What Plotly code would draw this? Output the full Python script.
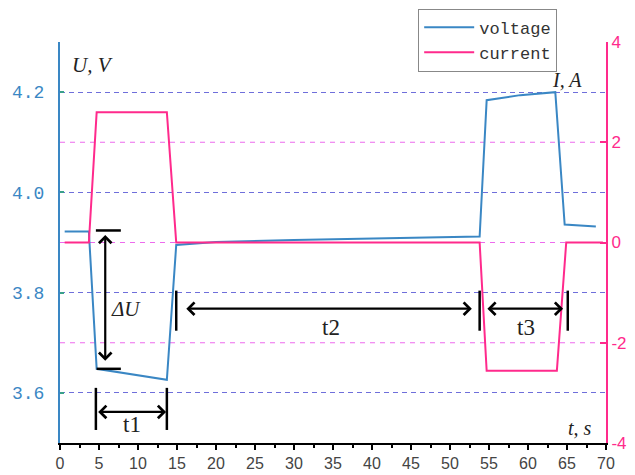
import plotly.graph_objects as go

# ---- data ----
voltage_t = [0.6, 3.7, 4.7, 13.7, 14.9, 20, 30, 40, 53.8, 54.7, 59, 63.5, 64.7, 68.7]
voltage_v = [3.922, 3.922, 3.648, 3.626, 3.895, 3.901, 3.905, 3.908, 3.912, 4.184, 4.194, 4.200, 3.936, 3.932]

current_t = [0.6, 3.7, 4.7, 13.7, 14.9, 53.8, 54.7, 63.7, 64.9, 69.6]
current_i = [0, 0, 2.6, 2.6, 0, 0, -2.56, -2.56, 0, 0]

x_ticks = [0, 5, 10, 15, 20, 25, 30, 35, 40, 45, 50, 55, 60, 65, 70]
x_tick_labels = [str(v) for v in x_ticks]
v_ticks = [3.6, 3.8, 4.0, 4.2]
v_tick_labels = ["3.6", "3.8", "4.0", "4.2"]
i_ticks = [-4, -2, 0, 2, 4]
i_tick_labels = ["-4", "-2", "0", "2", "4"]
i_grid = [-2, 0, 2]

BLUE = "#3a87c4"
PINK = "#ff2a8c"
GRID_V = "rgba(95,95,215,0.9)"
GRID_I = "rgba(235,90,235,0.9)"
SERIF = "Liberation Serif"

fig = go.Figure()
fig.add_trace(go.Scatter(x=current_t, y=current_i, mode="lines", name="current",
                         line=dict(color=PINK, width=2), yaxis="y2"))
fig.add_trace(go.Scatter(x=voltage_t, y=voltage_v, mode="lines", name="voltage",
                         line=dict(color=BLUE, width=2), yaxis="y"))

shapes = []
# current grid lines (right axis), no lines at the frame edges
for g in i_grid:
    shapes.append(dict(type="line", xref="paper", x0=0, x1=1, yref="y2", y0=g, y1=g,
                       line=dict(color=GRID_I, width=1, dash="5px,5px"), layer="below"))

# annotation geometry derived from the data
t_drop0 = voltage_t[2] - 0.1       # start of discharge pulse
t_drop1 = voltage_t[3]             # end of discharge pulse
t_rest0 = voltage_t[4]             # start of rest
t_rest1 = voltage_t[8]             # end of rest
t_chg1 = current_t[8] + 0.2        # end of charge pulse
v_before = voltage_v[1]
v_after = voltage_v[2]

black = dict(color="black", width=2.5)
# Delta U bars
shapes.append(dict(type="line", xref="x", yref="y", x0=t_drop0, x1=t_drop0 + 3.2,
                   y0=v_before + 0.002, y1=v_before + 0.002, line=black))
shapes.append(dict(type="line", xref="x", yref="y", x0=t_drop0 + 0.1, x1=t_drop0 + 3.2,
                   y0=v_after, y1=v_after, line=black))
# t1 bars
for tx in (t_drop0, t_drop1):
    shapes.append(dict(type="line", xref="x", yref="y", x0=tx, x1=tx, y0=3.61, y1=3.526, line=black))
# t2 / t3 bars
for tx in (t_rest0, t_rest1, t_chg1):
    shapes.append(dict(type="line", xref="x", yref="y", x0=tx, x1=tx, y0=3.804, y1=3.724, line=black))

annotations = []

def darrow(x0, y0, x1, y1):
    annotations.append(dict(x=x1, y=y1, ax=x0, ay=y0, xref="x", yref="y", axref="x", ayref="y",
                            text="", showarrow=True, arrowside="end+start",
                            arrowhead=4, startarrowhead=4, arrowsize=1.1, startarrowsize=1.1,
                            arrowwidth=2.2, arrowcolor="black"))

x_du = t_drop0 + 1.2
darrow(x_du, v_before - 0.004, x_du, v_after + 0.016)
darrow(t_drop0 + 0.1, 3.562, t_drop1 - 0.1, 3.562)
darrow(t_rest0 + 1.1, 3.768, t_rest1 - 1.0, 3.768)
darrow(t_rest1 + 0.8, 3.768, t_chg1 - 0.6, 3.768)

def label(txt, x, y, size, xref="x", yref="y"):
    annotations.append(dict(x=x, y=y, xref=xref, yref=yref, text=txt, showarrow=False,
                            font=dict(family=SERIF, size=size, color="#222"),
                            xanchor="center", yanchor="middle"))

label("<i>ΔU</i>", 8.5, 3.768, 21)
label("t1", 9.2, 3.537, 23)
label("t2", 34.8, 3.73, 23)
label("t3", 59.8, 3.73, 23)
label("<i>U, V</i>", 0.06, 0.943, 21, xref="paper", yref="paper")
label("<i>I, A</i>", 0.929, 0.905, 20, xref="paper", yref="paper")
label("<i>t, s</i>", 0.952, 0.037, 20, xref="paper", yref="paper")

# the page body adds an 8px margin, so the figure is sized to fill the rest of the window
fig.update_layout(
    width=627, height=467,
    margin=dict(l=52, r=29, t=34, b=32, autoexpand=False),
    paper_bgcolor="white", plot_bgcolor="white",
    showlegend=True,
    legend=dict(x=0.656, y=1.083, xanchor="left", yanchor="top",
                bordercolor="#888", borderwidth=1, bgcolor="white",
                font=dict(family="Liberation Mono", size=17, color="#333"),
                itemwidth=50,
                traceorder="reversed", tracegroupgap=0),
    xaxis=dict(range=[0, 70], tickvals=x_ticks, ticktext=x_tick_labels,
               showline=True, linecolor="black", linewidth=2,
               ticks="outside", ticklen=5, tickwidth=2, tickcolor="black",
               minor=dict(ticks="outside", ticklen=3, tickwidth=1.5, tickcolor="black", dtick=2.5),
               showgrid=False, zeroline=False,
               tickfont=dict(family="Liberation Sans", size=16, color="#444")),
    yaxis=dict(range=[3.5, 4.3], tickvals=v_ticks, ticktext=v_tick_labels,
               showline=True, linecolor=BLUE, linewidth=2,
               ticks="inside", ticklen=4, tickwidth=2, tickcolor="#3aa08a",
               showgrid=True, gridcolor=GRID_V, griddash="5px,4px", gridwidth=1,
               zeroline=False, ticklabelstandoff=10,
               tickfont=dict(family="Liberation Mono", size=18, color=BLUE)),
    yaxis2=dict(range=[-4, 4], overlaying="y", side="right", anchor="x",
                tickvals=i_ticks, ticktext=i_tick_labels,
                showline=True, linecolor=PINK, linewidth=2,
                ticks="inside", ticklen=6, tickwidth=2, tickcolor=PINK,
                showgrid=False, zeroline=False,
                tickfont=dict(family="Liberation Sans", size=17, color=PINK)),
    shapes=shapes,
    annotations=annotations,
)

fig.write_html("out.html")
